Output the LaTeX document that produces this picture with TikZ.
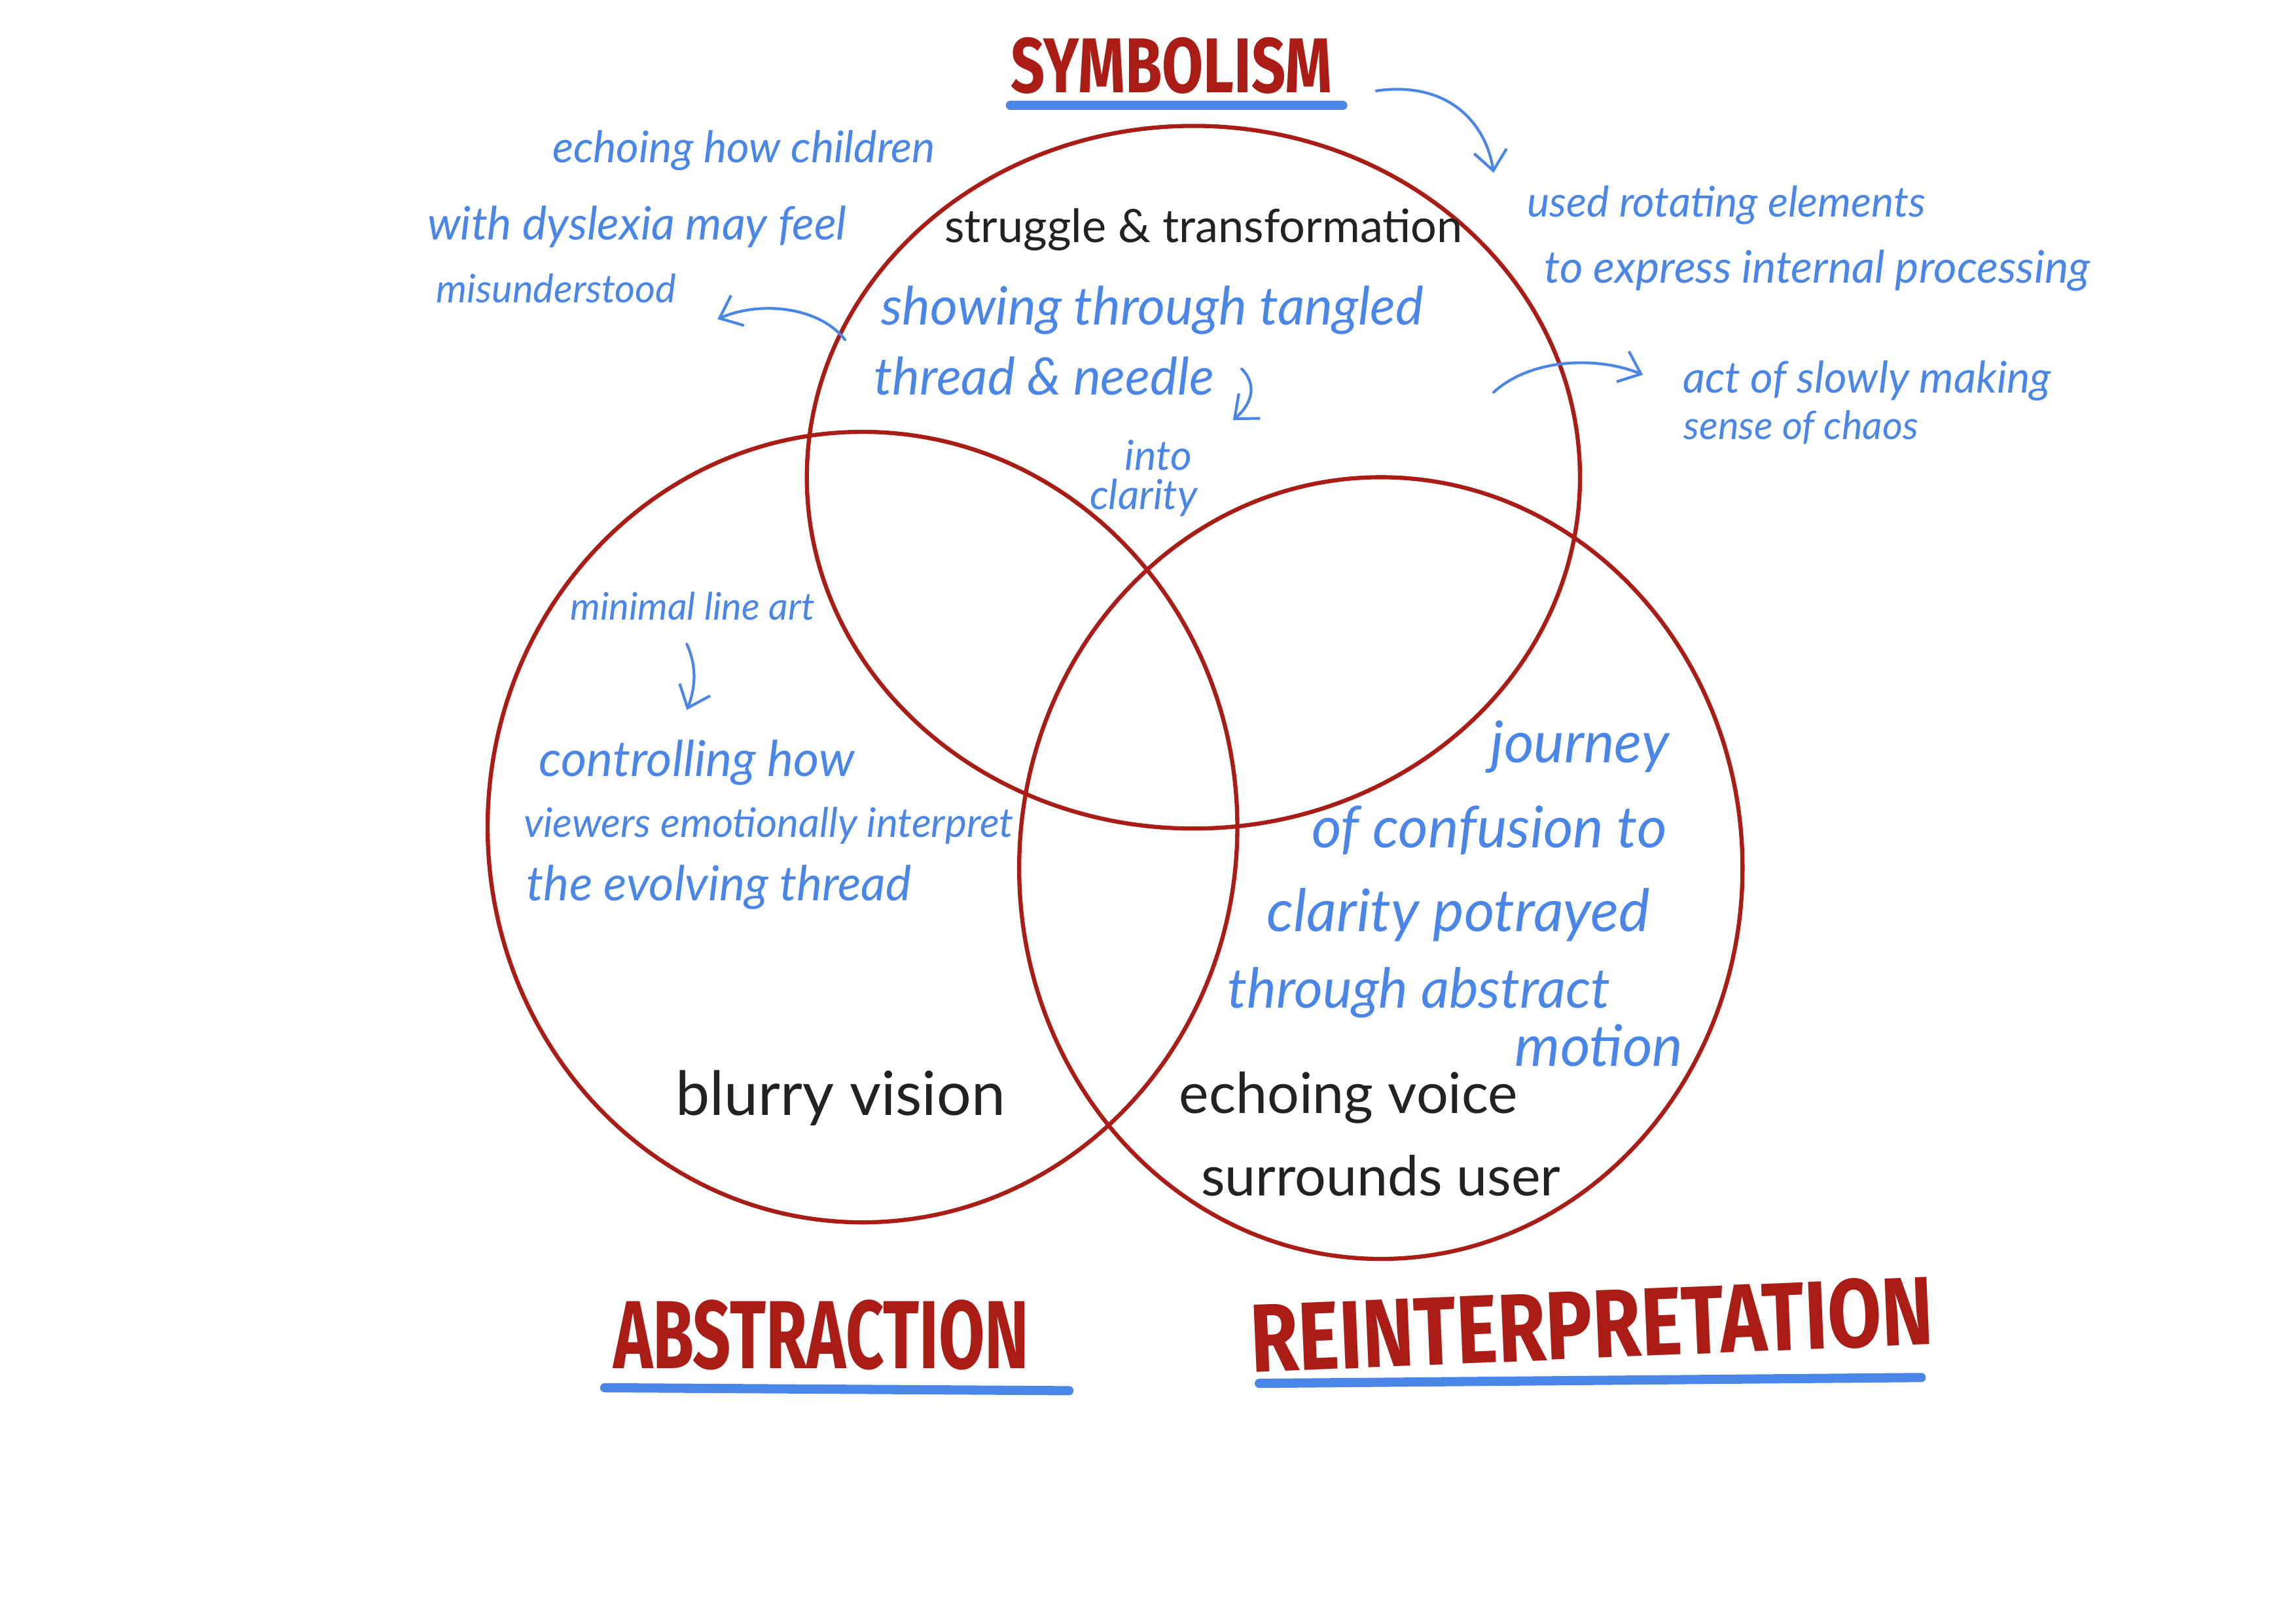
\documentclass[tikz,border=0pt]{standalone}
\usepackage{graphicx}
\usepackage{fontspec}
\setmainfont{Lato}
\newfontfamily\titlefont{Fira Sans}
\usepackage{xcolor}
\usetikzlibrary{arrows.meta}
\definecolor{vennred}{HTML}{A91D16}
\definecolor{noteblue}{HTML}{4A86E8}
\definecolor{inkgray}{HTML}{222222}
\tikzset{
  venn/.style={draw=vennred, line width=1.8pt},
  heading/.style={text=vennred, inner sep=0pt, font=\titlefont\bfseries\fontsize{#1}{#1}\selectfont},
  titlebar/.style={draw=noteblue, line width=4pt, line cap=round},
  note/.style={text=noteblue, inner sep=0pt, font=\itshape\fontsize{#1}{#1}\selectfont},
  ink/.style={text=inkgray, inner sep=0pt, font=\fontsize{#1}{#1}\selectfont},
  pointer/.style={draw=noteblue, line width=1.2pt, line cap=round, -{Straight Barb[length=3mm,width=5mm]}}
}

\begin{document}
\begin{tikzpicture}[x=0.22372mm,y=-0.22372mm]
\useasboundingbox (0,0) rectangle (1568,1109);
\fill[white] (0,0) rectangle (1568,1109);
\draw[venn] (815,326) ellipse [x radius=264, y radius=240];
\draw[venn] (589,565) ellipse [x radius=256, y radius=270];
\draw[venn] (943,593) ellipse [x radius=247, y radius=267];
\node[heading=26] (symbolism) at (800,45) {\scalebox{1}[1.3]{SYMBOLISM}};
\draw[titlebar] (690,72) -- (917,72);
\node[heading=29] (abstraction) at (561,912) {\scalebox{1}[1.45]{ABSTRACTION}};
\draw[titlebar] (413,948) -- (730,950);
\node[heading=34, rotate=2.4] (reinterp) at (1087,905) {\scalebox{1}[1.24]{REINTERPRETATION}};
\draw[titlebar] (860,945) -- (1312,941);
\node[note=19] (echo1) at (508,103) {echoing how children};
\node[note=20] (echo2) at (435,155) {with dyslexia may feel};
\node[note=17] (echo3) at (380,197) {misunderstood};
\node[ink=20] (struggle) at (822,157) {struggle \& transformation};
\node[note=23] (show1) at (787,212) {showing through tangled};
\node[note=22.5] (show2) at (713,257) {thread \& needle};
\node[note=18] (into) at (791,311) {into};
\node[note=18] (clarity) at (781,340) {clarity};
\node[note=18.4] (rot1) at (1179,140) {used rotating elements};
\node[note=19.5] (rot2) at (1241,185) {to express internal processing};
\node[note=19] (act1) at (1275,260) {act of slowly making};
\node[note=17] (act2) at (1230,292) {sense of chaos};
\node[note=16.5] (minimal) at (473,414) {minimal line art};
\node[note=21.5] (ctrl1) at (476,521) {controlling how};
\node[note=17.7] (ctrl2) at (525,564) {viewers emotionally interpret};
\node[note=21] (ctrl3) at (491,606) {the evolving thread};
\node[note=25] (jour1) at (1079,510) {journey};
\node[note=25] (jour2) at (1017,567) {of confusion to};
\node[note=25.5] (jour3) at (996,625) {clarity potrayed};
\node[note=24] (jour4) at (969,678) {through abstract};
\node[note=25] (jour5) at (1092,714) {motion};
\node[ink=26.5] (blurry) at (574,750) {blurry vision};
\node[ink=24.5] (voice1) at (921,750) {echoing voice};
\node[ink=24] (voice2) at (943,803) {surrounds user};
\coordinate (symarrow) at (940,62);
\coordinate (symtip) at (1020,118);
\coordinate (leftarrow) at (577,232);
\coordinate (lefttip) at (490,218);
\coordinate (needlearrow) at (848,252);
\coordinate (needletip) at (842,287);
\coordinate (rightarrow) at (1020,268);
\coordinate (righttip) at (1122,256);
\coordinate (minarrow) at (469,440);
\coordinate (mintip) at (469,485);
\draw[pointer] (symarrow) .. controls (990,55) and (1015,85) .. (symtip);
\draw[pointer] (leftarrow) .. controls (560,210) and (520,205) .. (lefttip);
\draw[pointer] (needlearrow) .. controls (858,262) and (856,275) .. (needletip);
\draw[pointer] (rightarrow) .. controls (1045,245) and (1090,243) .. (righttip);
\draw[pointer] (minarrow) .. controls (476,455) and (475,470) .. (mintip);
\end{tikzpicture}
\end{document}
